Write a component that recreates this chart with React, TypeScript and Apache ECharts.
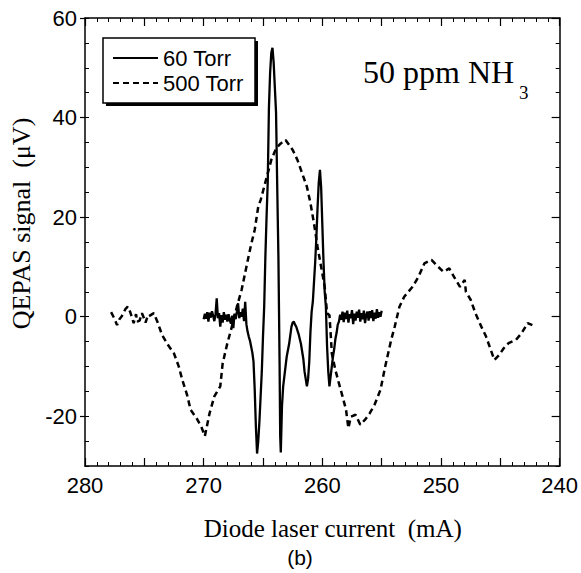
import React, { useEffect, useRef } from "react";
import * as echarts from "echarts";

// 60 Torr trace (solid)
const torr60Current: number[] = [
  270.0, 269.9, 269.8, 269.7, 269.6, 269.5, 269.4, 269.3, 269.2, 269.1, 269.0, 268.9, 268.8, 268.7, 268.6, 268.5,
  268.4, 268.3, 268.2, 268.1, 268.0, 267.9, 267.8, 267.7, 267.6, 267.5, 267.4, 267.3, 267.2, 267.1, 267.0, 266.9,
  266.8, 266.7, 266.6, 266.5, 266.4, 266.3, 266.2, 266.1, 266.0, 265.9, 265.8, 265.7, 265.6, 265.5, 265.4, 265.3,
  265.2, 265.1, 265.0, 264.9, 264.8, 264.7, 264.6, 264.5, 264.4, 264.3, 264.2, 264.1, 264.0, 263.9, 263.8, 263.7,
  263.6, 263.55, 263.5, 263.4, 263.3, 263.2, 263.0, 262.8, 262.6, 262.5, 262.4, 262.3, 262.2, 262.0, 261.8, 261.6,
  261.5, 261.4, 261.3, 261.2, 261.1, 261.0, 260.9, 260.8, 260.6, 260.5, 260.4, 260.3, 260.2, 260.1, 260.0, 259.9,
  259.8, 259.7, 259.6, 259.5, 259.4, 259.3, 259.2, 259.1, 259.0, 258.9, 258.8, 258.7, 258.6, 258.5, 258.4, 258.3,
  258.2, 258.1, 258.0, 257.9, 257.8, 257.7, 257.6, 257.5, 257.4, 257.3, 257.2, 257.1, 257.0, 256.9, 256.8, 256.7,
  256.6, 256.5, 256.4, 256.3, 256.2, 256.1, 256.0, 255.9, 255.8, 255.7, 255.6, 255.5, 255.4, 255.3, 255.2, 255.1,
  255.0,
];
const torr60Signal: number[] = [
  -0.5, 0.6, -0.4, 0.9, -1.0, 0.8, -0.2, 1.1, 0.2, -0.9, 0.5, 3.7, -0.3, 0.7, -2.0, 0.3,
  -1.2, 0.9, -0.6, 0.4, -1.0, 0.5, -0.7, -1.4, 0.2, -2.3, 0.6, -0.5, 1.0, 2.7, -0.3, 0.9,
  0.0, 1.6, -0.9, 3.0, -1.5, -3.0, -4.0, -4.8, -6.0, -7.2, -9.0, -14.5, -22.0, -27.5, -25.0, -21.0,
  -16.0, -11.0, -4.0, 2.0, 12.0, 20.0, 27.0, 42.0, 49.0, 53.0, 54.0, 51.0, 46.0, 41.0, 26.0, 12.0,
  -10.0, -24.0, -27.3, -18.0, -14.0, -12.0, -8.0, -5.5, -2.0, -1.2, -1.0, -1.6, -2.0, -3.5, -5.5, -8.5,
  -11.0, -12.5, -14.0, -12.5, -9.0, -3.0, 1.0, 3.0, 11.0, 16.0, 22.0, 27.0, 29.5, 26.0, 18.5, 11.0,
  5.0, 2.0, -6.0, -11.0, -14.0, -12.0, -10.0, -8.0, -6.5, -4.5, -3.3, -1.6, -1.0, 0.4, -0.6, 1.0,
  -1.1, 0.8, -0.5, 1.2, -1.2, 0.5, -0.3, 1.3, -1.5, 0.6, -0.8, 1.0, -0.2, 1.4, -1.0, 0.7,
  -0.5, 1.2, -1.3, 0.3, 1.0, -0.8, 1.1, -0.3, 1.3, -0.9, 0.8, -0.4, 1.5, -0.2, 0.9, 0.0,
  1.2,
];

// 500 Torr trace (dashed)
const torr500Current: number[] = [
  277.8, 277.5, 277.3, 277.1, 276.9, 276.6, 276.4, 276.2, 276.0, 275.9, 275.7, 275.6, 275.4, 275.2, 275.0, 274.9,
  274.7, 274.6, 274.4, 274.2, 273.9, 273.5, 273.0, 272.5, 272.1, 271.8, 271.4, 271.1, 270.6, 270.2, 269.9, 269.5,
  269.1, 268.6, 268.4, 268.0, 267.7, 267.2, 266.8, 266.4, 266.0, 265.7, 265.4, 265.2, 264.9, 264.6, 264.3, 263.9,
  263.5, 263.1, 262.8, 262.5, 262.1, 261.7, 261.3, 261.0, 260.7, 260.4, 260.1, 259.8, 259.6, 259.4, 259.3, 259.2,
  258.9, 258.6, 258.3, 258.0, 257.9, 257.8, 257.6, 257.2, 256.8, 256.4, 256.0, 255.6, 255.1, 254.7, 254.2, 253.9,
  253.5, 253.1, 252.4, 251.9, 251.4, 250.8, 250.4, 249.8, 249.3, 248.9, 248.4, 248.0, 247.9, 247.5, 247.1, 246.6,
  246.2, 245.8, 245.5, 245.1, 244.7, 244.3, 243.7, 243.2, 242.7, 242.3,
];
const torr500Signal: number[] = [
  0.9, -0.5, -1.7, -0.5, 0.1, 1.5, 2.0, 1.0, -0.5, -1.3, 0.5, -1.0, -0.8, 0.7, -0.5, -1.2,
  0.3, 0.1, 0.4, 0.7, -1.0, -3.7, -5.7, -7.4, -10.0, -12.7, -15.7, -18.7, -20.4, -22.1, -24.0, -19.4,
  -16.0, -14.0, -9.4, -5.3, -2.7, 2.0, 5.4, 10.0, 14.5, 17.4, 22.1, 23.4, 26.1, 28.8, 31.5, 33.8,
  34.8, 35.5, 34.5, 33.5, 31.5, 28.8, 26.1, 22.8, 18.7, 14.0, 10.0, 6.0, 0.7, 0.3, -3.3, -7.4,
  -10.7, -13.4, -16.0, -18.7, -20.7, -22.4, -20.1, -19.7, -21.7, -20.7, -19.4, -17.7, -14.7, -10.0, -4.7, -2.0,
  2.0, 4.0, 6.0, 8.0, 10.7, 11.4, 10.4, 9.0, 9.7, 8.0, 6.0, 7.4, 5.0, 3.4, 0.7, -2.0,
  -4.0, -6.7, -8.7, -7.7, -6.3, -5.3, -4.7, -3.3, -1.3, -1.7,
];

const seriesNames: string[] = ["60 Torr", "500 Torr"];
const yMajorTicks: number[] = [-20, 0, 20, 40, 60];
const xLabel = "Diode laser current  (mA)";
const yLabel = "QEPAS signal  (μV)";
const annotationMain = "50 ppm NH";
const annotationSub = "3";
const panelLabel = "(b)";

const SANS = "'Liberation Sans', Arial, sans-serif";
const SERIF = "'Liberation Serif', 'Times New Roman', serif";

const zip = (xs: number[], ys: number[]) => xs.map((x, i) => [x, ys[i]]);

export default function App() {
  const ref = useRef<HTMLDivElement>(null);

  useEffect(() => {
    if (!ref.current) return;
    const chart = echarts.init(ref.current, undefined, { renderer: "svg" });
    const axisLine = { show: true, onZero: false, lineStyle: { color: "#000", width: 1.5 } };
    const noLine = { show: false, onZero: false };
    const baseY = { type: "value" as const, min: -30, max: 60, splitLine: { show: false } };
    const baseX = {
      type: "value" as const,
      min: 240,
      max: 280,
      inverse: true,
      interval: 5,
      splitLine: { show: false },
      axisLine,
      axisTick: { show: true, inside: true, length: 8, lineStyle: { color: "#000", width: 1.2 } },
      minorTick: { show: true, splitNumber: 5, length: 4, lineStyle: { color: "#000", width: 1 } },
      minorSplitLine: { show: false },
    };
    chart.setOption({
      animation: false,
      backgroundColor: "#fff",
      grid: { left: 85, right: 18, top: 18, bottom: 107, containLabel: false },
      xAxis: [
        {
          ...baseX,
          position: "bottom",
          axisLabel: {
            formatter: (v: number) => (v % 10 === 0 ? String(v) : ""),
            fontSize: 22,
            fontFamily: SANS,
            color: "#000",
            margin: 8,
          },
          name: xLabel,
          nameLocation: "middle",
          nameGap: 50,
          nameTextStyle: { fontFamily: SERIF, fontSize: 25, color: "#000", padding: [0, 0, 0, 21] },
        },
        { ...baseX, position: "top", axisLabel: { show: false } },
      ],
      yAxis: [
        {
          ...baseY,
          position: "left",
          axisLine,
          axisTick: { show: true, inside: false, length: 5, customValues: yMajorTicks, lineStyle: { color: "#000", width: 1.2 } },
          axisLabel: { customValues: yMajorTicks, fontSize: 22, fontFamily: SANS, color: "#000", margin: 8 },
          name: yLabel,
          nameLocation: "middle",
          nameGap: 51,
          nameTextStyle: { fontFamily: SERIF, fontSize: 26, color: "#000", padding: [0, 0, 0, 37] },
        },
        {
          ...baseY,
          position: "left",
          interval: 5,
          axisLine: noLine,
          axisTick: { show: true, inside: true, length: 4, lineStyle: { color: "#000", width: 1 } },
          axisLabel: { show: false },
        },
        {
          ...baseY,
          position: "right",
          interval: 5,
          axisLine,
          axisTick: { show: true, inside: true, length: 4, lineStyle: { color: "#000", width: 1 } },
          axisLabel: { show: false },
        },
        {
          ...baseY,
          position: "right",
          axisLine: noLine,
          axisTick: { show: true, inside: true, length: 8, customValues: yMajorTicks, lineStyle: { color: "#000", width: 1.2 } },
          axisLabel: { show: false },
        },
      ],
      legend: {
        show: true,
        left: 112,
        top: 47,
        orient: "vertical",
        itemWidth: 45,
        itemHeight: 12,
        itemGap: 3,
        padding: 0,
        selectedMode: false,
        z: 10,
        data: seriesNames,
        itemStyle: { color: "transparent", borderColor: "transparent", borderWidth: 0, opacity: 0 },
        textStyle: { fontSize: 22, fontFamily: SANS, color: "#000" },
      },
      graphic: [
        { type: "rect", z: 1, shape: { x: 106, y: 41, width: 152, height: 65 }, style: { fill: "#000" } },
        { type: "rect", z: 2, shape: { x: 103, y: 38, width: 152, height: 65 }, style: { fill: "#fff", stroke: "#000", lineWidth: 1.5 } },
        {
          type: "text",
          x: 363,
          y: 72,
          z: 5,
          style: { text: annotationMain, font: `32px ${SERIF}`, fill: "#000", textAlign: "left", textVerticalAlign: "middle" },
        },
        {
          type: "text",
          x: 519,
          y: 92,
          z: 5,
          style: { text: annotationSub, font: `19px ${SERIF}`, fill: "#000", textAlign: "left", textVerticalAlign: "middle" },
        },
        {
          type: "text",
          x: 300,
          y: 557,
          z: 5,
          style: { text: panelLabel, font: `21px ${SANS}`, fill: "#000", textAlign: "center", textVerticalAlign: "middle" },
        },
      ],
      series: [
        {
          name: seriesNames[1],
          type: "line",
          xAxisIndex: 0,
          yAxisIndex: 0,
          symbol: "none",
          showSymbol: false,
          color: "#000",
          lineStyle: { color: "#000", width: 2.5, type: [6, 4] },
          data: zip(torr500Current, torr500Signal),
          z: 3,
        },
        {
          name: seriesNames[0],
          type: "line",
          xAxisIndex: 0,
          yAxisIndex: 0,
          symbol: "none",
          showSymbol: false,
          color: "#000",
          lineStyle: { color: "#000", width: 2.3, type: "solid" },
          data: zip(torr60Current, torr60Signal),
          z: 4,
        },
      ],
    });
    return () => chart.dispose();
  }, []);

  return (
    <div
      ref={ref}
      style={{ position: "fixed", left: 0, top: 0, width: 581, height: 573, background: "#fff" }}
    />
  );
}
